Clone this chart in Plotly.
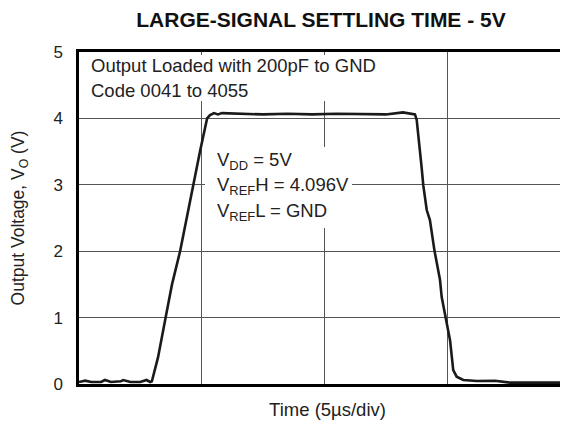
import plotly.graph_objects as go

# Time in microseconds (5 us/div), output voltage in volts
time_us = [0, 0.25, 0.5, 0.9, 1.06, 1.3, 1.7, 1.8, 2.1, 2.5, 2.75, 2.9, 2.97,
           3.22, 3.53, 3.79, 4.12, 4.36, 4.65, 4.93, 5.22, 5.34, 5.50, 5.66, 5.83,
           6.5, 7.5, 8.5, 9.5, 10.5, 11.5, 12.5, 13.2, 13.5, 13.69,
           13.76, 13.87, 13.96, 14.03, 14.17, 14.30, 14.37, 14.48, 14.71, 14.78,
           14.94, 15.12, 15.25, 15.39, 15.66, 16.21, 16.95, 17.56, 18.79, 19.97]
vout = [0.03, 0.05, 0.03, 0.03, 0.06, 0.03, 0.04, 0.06, 0.03, 0.03, 0.06, 0.03, 0.04,
        0.40, 1.00, 1.50, 2.00, 2.45, 3.00, 3.50, 4.00, 4.05, 4.08, 4.06, 4.08,
        4.07, 4.06, 4.07, 4.06, 4.07, 4.07, 4.06, 4.09, 4.07, 4.06,
        3.98, 3.52, 3.27, 2.99, 2.62, 2.47, 2.27, 2.02, 1.57, 1.31,
        1.00, 0.66, 0.21, 0.11, 0.06, 0.045, 0.05, 0.02, 0.02, 0.02]

y_ticks = [0, 1, 2, 3, 4, 5]
title_text = "<b>LARGE-SIGNAL SETTLING TIME - 5V</b>"
note1 = ["Output Loaded with 200pF to GND", "Code 0041 to 4055"]
note2 = ["V<sub>DD</sub> = 5V", "V<sub>REF</sub>H = 4.096V", "V<sub>REF</sub>L = GND"]

FONT = "Liberation Sans, Arial, sans-serif"
TXT = "#222222"

# page body adds an 8px offset; positions below are in screen pixels
OFF = 8
W, H = 568, 424
L, R, T, B = 79 - OFF, 0, 52 - OFF, H - (384 - OFF)
pw, ph = W - L - R, H - T - B
PX_PER_US = 122.7 / 5.0
x_max = pw / PX_PER_US

def px(x):
    return (x - OFF - L) / pw

def py(y):
    return (H - B - (y - OFF)) / ph

fig = go.Figure()
fig.add_trace(go.Scatter(x=time_us, y=vout, mode="lines",
                         line=dict(color="#1a1a1a", width=2.6),
                         showlegend=False, hoverinfo="skip"))

shapes = [
    dict(type="rect", xref="paper", yref="paper", x0=px(81), x1=px(400), y0=py(101), y1=py(55),
         fillcolor="white", line=dict(width=0), layer="above"),
    dict(type="rect", xref="paper", yref="paper", x0=px(205), x1=px(352), y0=py(228), y1=py(147),
         fillcolor="white", line=dict(width=0), layer="above"),
]

annotations = []
for txt, yy in zip(note1, [66, 90]):
    annotations.append(dict(text=txt, xref="paper", yref="paper", x=px(89), y=py(yy),
                            xanchor="left", yanchor="middle", showarrow=False,
                            font=dict(family=FONT, size=18.5, color=TXT)))
for txt, yy in zip(note2, [161, 186, 212]):
    annotations.append(dict(text=txt, xref="paper", yref="paper", x=px(215), y=py(yy),
                            xanchor="left", yanchor="middle", showarrow=False,
                            font=dict(family=FONT, size=18.5, color=TXT)))

fig.update_layout(
    width=W, height=H,
    margin=dict(l=L, r=R, t=T, b=B, autoexpand=False),
    paper_bgcolor="white", plot_bgcolor="white",
    font=dict(family=FONT, color=TXT),
    title=dict(text=title_text, x=(321 - OFF) / W, xanchor="center",
               y=1 - (19.5 - OFF) / H, yanchor="middle",
               yref="container", font=dict(family=FONT, size=21, color="#111111")),
    shapes=shapes, annotations=annotations,
    xaxis=dict(range=[0, x_max], dtick=5, tick0=0, showgrid=True, gridcolor="#555555",
               gridwidth=1.2, zeroline=False, showticklabels=False, ticks="",
               showline=True, linecolor="black", linewidth=3, mirror=True,
               title=dict(text="Time (5µs/div)", standoff=18,
                          font=dict(family=FONT, size=18.5, color=TXT))),
    yaxis=dict(range=[0, 5], tickvals=y_ticks, showgrid=True, gridcolor="#555555",
               gridwidth=1.2, zeroline=False, ticks="outside", ticklen=10,
               tickcolor="rgba(0,0,0,0)", tickfont=dict(family=FONT, size=17, color=TXT),
               showline=True, linecolor="black", linewidth=2.5,
               title=dict(text="Output Voltage, V<sub>O</sub> (V)", standoff=30,
                          font=dict(family=FONT, size=17.5, color=TXT))),
)

fig.write_html("out.html")
